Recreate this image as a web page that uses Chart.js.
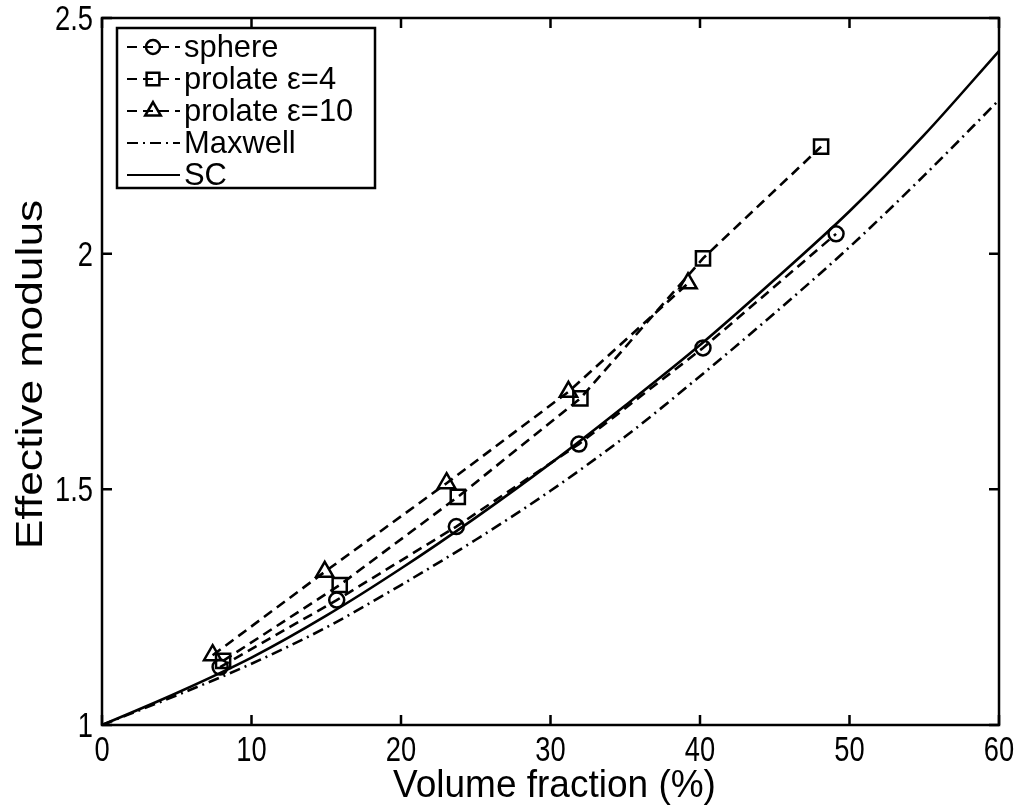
<!DOCTYPE html>
<html>
<head>
<meta charset="utf-8">
<script src="https://cdn.jsdelivr.net/npm/chart.js@4.4.0/dist/chart.umd.min.js"></script>
<style>
  html, body { margin: 0; padding: 0; background: #fff; }
  #wrap { width: 1022px; height: 809px; }
</style>
</head>
<body>
<div id="wrap"><canvas id="c" width="1022" height="809"></canvas></div>
<script>
// ---- data ----
const xTicks = [0, 10, 20, 30, 40, 50, 60];
const yTicks = [1, 1.5, 2, 2.5];
const xTickLabels = ['0', '10', '20', '30', '40', '50', '60'];
const yTickLabels = ['1', '1.5', '2', '2.5'];
const xTitle = 'Volume fraction (%)';
const yTitle = 'Effective modulus';

const sphereX = [7.9, 15.7, 23.7, 31.9, 40.2, 49.1];
const sphereY = [1.123, 1.265, 1.421, 1.596, 1.800, 2.042];

const prolate4X = [8.1, 15.9, 23.8, 32.0, 40.2, 48.1];
const prolate4Y = [1.136, 1.297, 1.484, 1.693, 1.990, 2.227];

const prolate10X = [7.4, 14.9, 23.05, 31.2, 39.2];
const prolate10Y = [1.148, 1.325, 1.513, 1.707, 1.937];

const curveX   = [0, 5, 10, 15, 20, 25, 30, 35, 40, 45, 50, 55, 60];
const maxwellY = [1, 1.063, 1.130, 1.207, 1.297, 1.393, 1.497, 1.612, 1.740, 1.874, 2.014, 2.166, 2.326];
const scY      = [1, 1.068, 1.143, 1.232, 1.332, 1.440, 1.555, 1.678, 1.806, 1.945, 2.090, 2.252, 2.430];

const seriesNames = ['sphere', 'prolate \u03b5=4', 'prolate \u03b5=10', 'Maxwell', 'SC'];

const pts = (xs, ys) => xs.map((x, i) => ({x: x, y: ys[i]}));

const FONT = "'Liberation Sans', Arial, Helvetica, sans-serif";
const DASH = [10, 6];
const DASHDOT = [11, 5, 2, 5];

const datasets = [
  { label: seriesNames[0], data: pts(sphereX, sphereY), borderDash: DASH,
    pointStyle: 'circle', pointRadius: 7.5, pointBorderWidth: 2.5 },
  { label: seriesNames[1], data: pts(prolate4X, prolate4Y), borderDash: DASH,
    pointStyle: 'rect', pointRadius: 10, pointBorderWidth: 2.5 },
  { label: seriesNames[2], data: pts(prolate10X, prolate10Y), borderDash: DASH,
    pointStyle: 'triangle', pointRadius: 10, pointBorderWidth: 2.5 },
  { label: seriesNames[3], data: pts(curveX, maxwellY), borderDash: DASHDOT,
    pointRadius: 0, cubicInterpolationMode: 'monotone' },
  { label: seriesNames[4], data: pts(curveX, scY), borderDash: [],
    pointRadius: 0, cubicInterpolationMode: 'monotone' }
].map(d => Object.assign({
  showLine: true, borderColor: '#000', borderWidth: 2.6,
  pointBorderColor: '#000', pointBackgroundColor: 'rgba(0,0,0,0)',
  pointHoverRadius: 0
}, d));

// draw text with independent horizontal/vertical scaling (MATLAB export look)
function scaledText(ctx, text, x, y, sx, sy, align, rot) {
  ctx.save();
  ctx.translate(x, y);
  if (rot) ctx.rotate(rot);
  ctx.scale(sx, sy);
  ctx.textAlign = align;
  ctx.textBaseline = 'alphabetic';
  ctx.fillText(text, 0, 0);
  ctx.restore();
}

// frame, inward ticks, tick labels, axis titles
const framePlugin = {
  id: 'frame',
  afterDatasetsDraw(chart) {
    const {ctx, chartArea: a, scales} = chart;
    ctx.save();
    ctx.strokeStyle = '#000';
    ctx.lineWidth = 2.5;
    ctx.setLineDash([]);
    ctx.strokeRect(a.left, a.top, a.right - a.left, a.bottom - a.top);
    const L = 10;
    ctx.beginPath();
    xTicks.forEach(v => {
      const px = scales.x.getPixelForValue(v);
      ctx.moveTo(px, a.bottom); ctx.lineTo(px, a.bottom - L);
      ctx.moveTo(px, a.top); ctx.lineTo(px, a.top + L);
    });
    yTicks.forEach(v => {
      const py = scales.y.getPixelForValue(v);
      ctx.moveTo(a.left, py); ctx.lineTo(a.left + L, py);
      ctx.moveTo(a.right, py); ctx.lineTo(a.right - L, py);
    });
    ctx.stroke();

    ctx.fillStyle = '#000';
    ctx.font = '35px ' + FONT;
    xTicks.forEach((v, i) => {
      const px = scales.x.getPixelForValue(v);
      scaledText(ctx, xTickLabels[i], px, a.bottom + 36, 0.78, 1, 'center', 0);
    });
    yTicks.forEach((v, i) => {
      const py = scales.y.getPixelForValue(v);
      scaledText(ctx, yTickLabels[i], a.left - 9, py + 12, 0.78, 1, 'right', 0);
    });

    ctx.font = '37px ' + FONT;
    scaledText(ctx, xTitle, (a.left + a.right) / 2 + 4, 797, 1, 1.05, 'center', 0);
    scaledText(ctx, yTitle, 42, (a.top + a.bottom) / 2 + 3, 1.2, 1, 'center', -Math.PI / 2);
    ctx.restore();
  }
};

// MATLAB-style legend
const legendPlugin = {
  id: 'mlegend',
  afterDraw(chart) {
    const {ctx} = chart;
    const box = {x: 117, y: 28, w: 258, h: 160};
    const rowY0 = 47, rowH = 32;
    const lx0 = 127, lx1 = 180, mx = 153, tx = 184;
    ctx.save();
    ctx.fillStyle = '#fff';
    ctx.fillRect(box.x, box.y, box.w, box.h);
    ctx.strokeStyle = '#000';
    ctx.lineWidth = 2.5;
    ctx.setLineDash([]);
    ctx.strokeRect(box.x, box.y, box.w, box.h);
    chart.data.datasets.forEach((ds, i) => {
      const y = rowY0 + i * rowH;
      ctx.strokeStyle = '#000';
      ctx.setLineDash(ds.borderDash || []);
      ctx.lineWidth = 2;
      ctx.beginPath();
      ctx.moveTo(lx0, y); ctx.lineTo(lx1, y);
      ctx.stroke();
      ctx.setLineDash([]);
      if (ds.pointRadius > 0) {
        ctx.lineWidth = 2.5;
        ctx.fillStyle = 'rgba(0,0,0,0)';
        const r = ds.pointStyle === 'circle' ? 7 : 9;
        Chart.helpers.drawPoint(ctx, {pointStyle: ds.pointStyle, radius: r, rotation: 0, borderWidth: 2.5}, mx, y);
      }
      ctx.fillStyle = '#000';
      ctx.font = '30px ' + FONT;
      scaledText(ctx, ds.label, tx, y + 10, 1.03, 1.05, 'left', 0);
    });
    ctx.restore();
  }
};

new Chart(document.getElementById('c'), {
  type: 'scatter',
  data: { datasets },
  options: {
    responsive: false,
    animation: false,
    events: [],
    layout: { padding: { top: 18, right: 23, left: 0, bottom: 0 } },
    plugins: { legend: { display: false }, tooltip: { enabled: false } },
    scales: {
      x: {
        type: 'linear', min: 0, max: 60,
        afterBuildTicks: s => { s.ticks = xTicks.map(v => ({value: v})); },
        afterFit: s => { s.height = 84; },
        grid: { display: false }, border: { display: false },
        ticks: { display: false },
        title: { display: false }
      },
      y: {
        type: 'linear', min: 1, max: 2.5,
        afterBuildTicks: s => { s.ticks = yTicks.map(v => ({value: v})); },
        afterFit: s => { s.width = 102; },
        grid: { display: false }, border: { display: false },
        ticks: { display: false },
        title: { display: false }
      }
    }
  },
  plugins: [framePlugin, legendPlugin]
});
</script>
</body>
</html>
